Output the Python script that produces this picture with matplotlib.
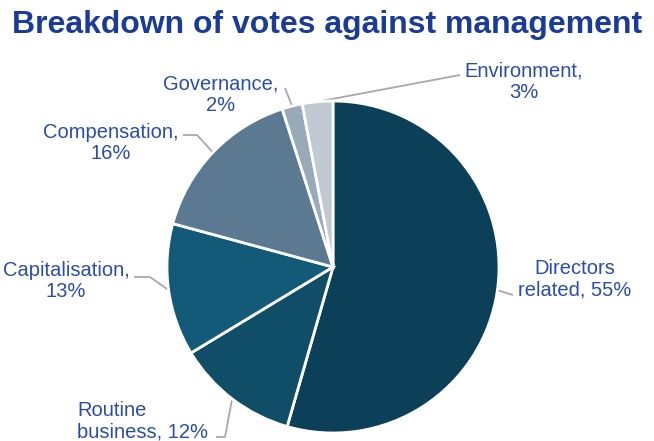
import numpy as np
import matplotlib
matplotlib.use("Agg")
from matplotlib import pyplot as plt

plt.rcParams['font.family'] = ['Liberation Sans', 'DejaVu Sans']

# vote categories, clockwise from 12 o'clock
categories = ["Directors\nrelated", "Routine\nbusiness", "Capitalisation,\n", "Compensation,\n",
              "Governance,\n", "Environment,\n"]
shares = [55, 12, 13, 16, 2, 3]
slice_colors = ["#0c4058", "#104e68", "#135a79", "#5b7a92", "#98a9b8", "#c1cad3"]

W, H = 654, 441
CX, CY, R = 333, 267, 166

# label placement in pixels (x, y from top), text alignment, elbow points of the leader line
label_xy = [(575, 279), (77, 421), (66, 281), (111, 143), (221, 95), (524, 82)]
label_ha = ["center", "left", "center", "center", "center", "center"]
leader_pts = [
    [(513, 295)],
    [(225, 437), (216, 437)],
    [(150, 277), (134, 277)],
    [(197, 135), (183, 135)],
    [(285, 88)],
    [(460, 75)],
]

fig = plt.figure(figsize=(W / 100, H / 100), dpi=100)
ax = fig.add_axes([0, 0, 1, 1])

wedges, _ = ax.pie(shares, colors=slice_colors, startangle=90, counterclock=False,
                   center=(CX, H - CY), radius=R,
                   wedgeprops=dict(edgecolor="white", linewidth=2))

for i, w in enumerate(wedges):
    mid = np.deg2rad((w.theta1 + w.theta2) / 2)
    pts = [(CX + R * np.cos(mid), H - CY + R * np.sin(mid))]
    pts += [(x, H - y) for x, y in leader_pts[i]]
    xs, ys = zip(*pts)
    ax.plot(xs, ys, color="#a8a8a8", lw=1.3, solid_capstyle="butt", zorder=0)

    name = categories[i]
    if name.endswith("\n"):
        txt = name + "%d%%" % shares[i]
    else:
        txt = name + ", %d%%" % shares[i]
    lx, ly = label_xy[i]
    ax.text(lx, H - ly, txt, ha=label_ha[i], va="center", multialignment=label_ha[i],
            fontsize=14.5, color="#2a4cb0", linespacing=1.15)

# one data unit per pixel
ax.set_xlim(0, W)
ax.set_ylim(0, H)
ax.set_aspect("equal")
ax.axis("off")

fig.text(12 / W, 1 - 25 / H, "Breakdown of votes against management", ha="left", va="center",
         fontsize=23, fontweight="bold", color="#1a3c98")

fig.savefig("out.png", dpi=100)
